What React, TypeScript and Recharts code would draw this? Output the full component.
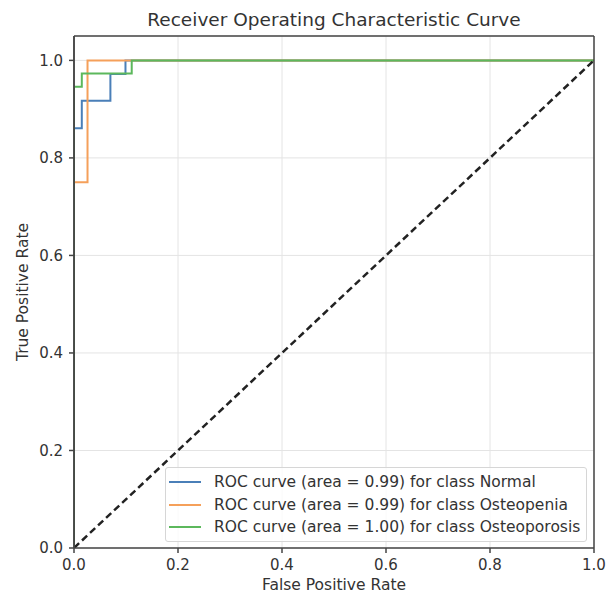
import { LineChart, Line, XAxis, YAxis, CartesianGrid, ReferenceLine } from 'recharts';

// ROC points (false positive rate, true positive rate)
const normalFpr = [0, 0, 0.015, 0.07, 0.099, 1];
const normalTpr = [0, 0.861, 0.917, 0.972, 1, 1];
const osteopeniaFpr = [0, 0, 0.026, 1];
const osteopeniaTpr = [0, 0.75, 1, 1];
const osteoporosisFpr = [0, 0, 0.015, 0.111, 1];
const osteoporosisTpr = [0, 0.946, 0.973, 1, 1];
const chanceFpr = [0, 1];
const chanceTpr = [0, 1];

const ticks = [0, 0.2, 0.4, 0.6, 0.8, 1.0];
const xMax = 1;
const yMax = 1.05;

const toPoints = (xs: number[], ys: number[]) => xs.map((x, i) => ({ x, y: ys[i] }));

const series = [
    { name: 'ROC curve (area = 0.99) for class Normal', color: '#4a7fb8', data: toPoints(normalFpr, normalTpr) },
    { name: 'ROC curve (area = 0.99) for class Osteopenia', color: '#f5a05a', data: toPoints(osteopeniaFpr, osteopeniaTpr) },
    { name: 'ROC curve (area = 1.00) for class Osteoporosis', color: '#5cb85c', data: toPoints(osteoporosisFpr, osteoporosisTpr) },
];

const font = '"DejaVu Sans", sans-serif';
const textColor = '#333';
const spine = '#444';

export default function App() {
    return (
        <div style={{ position: 'absolute', left: 0, top: 0, width: 611, height: 596, background: '#fff', fontFamily: font }}>
            <div style={{ position: 'absolute', left: 74, width: 520, top: 9, textAlign: 'center', fontSize: 18.5, color: textColor }}>
                Receiver Operating Characteristic Curve
            </div>
            <LineChart width={611} height={596} margin={{ top: 36, right: 17, left: 14, bottom: 8 }}>
                <CartesianGrid stroke="#e4e4e4" />
                {series.map((s) => (
                    <Line
                        key={s.name}
                        data={s.data}
                        dataKey="y"
                        type="stepAfter"
                        stroke={s.color}
                        strokeWidth={2}
                        dot={false}
                        isAnimationActive={false}
                    />
                ))}
                <Line
                    data={toPoints(chanceFpr, chanceTpr)}
                    dataKey="y"
                    type="linear"
                    stroke="#222"
                    strokeWidth={2.5}
                    strokeDasharray="7 4"
                    dot={false}
                    isAnimationActive={false}
                />
                <XAxis
                    type="number"
                    dataKey="x"
                    domain={[0, xMax]}
                    ticks={ticks}
                    tickFormatter={(v: number) => v.toFixed(1)}
                    height={40}
                    tickSize={5}
                    tickMargin={6}
                    stroke={spine}
                    strokeWidth={1.5}
                    tick={{ fill: textColor, fontSize: 15, fontFamily: font }}
                    label={{ value: 'False Positive Rate', position: 'insideBottom', offset: -2, fill: textColor, fontSize: 15.5, fontFamily: font }}
                    allowDataOverflow
                />
                <YAxis
                    type="number"
                    domain={[0, yMax]}
                    ticks={ticks}
                    tickFormatter={(v: number) => v.toFixed(1)}
                    width={60}
                    tickSize={5}
                    tickMargin={6}
                    stroke={spine}
                    strokeWidth={1.5}
                    tick={{ fill: textColor, fontSize: 15, fontFamily: font }}
                    label={{ value: 'True Positive Rate', angle: -90, position: 'insideLeft', offset: 0, dx: 8, fill: textColor, fontSize: 15.5, fontFamily: font, style: { textAnchor: 'middle' } }}
                    allowDataOverflow
                />
                {/* frame: top, right and left spines over the curves */}
                <ReferenceLine y={yMax} stroke={spine} strokeWidth={1.5} ifOverflow="visible" />
                <ReferenceLine x={xMax} stroke={spine} strokeWidth={1.5} ifOverflow="visible" />
                <ReferenceLine x={0} stroke={spine} strokeWidth={1.5} ifOverflow="visible" />
            </LineChart>
            <div
                style={{
                    position: 'absolute',
                    left: 165,
                    top: 467,
                    width: 422,
                    height: 75,
                    border: '1px solid #d6d6d6',
                    borderRadius: 3,
                    background: 'rgba(255,255,255,0.8)',
                    boxSizing: 'border-box',
                    padding: '3px 0 0 3px',
                }}
            >
                {series.map((s) => (
                    <div key={s.name} style={{ display: 'flex', alignItems: 'center', height: 22.5, fontSize: 15.5, color: textColor, whiteSpace: 'nowrap' }}>
                        <span style={{ display: 'inline-block', width: 32, height: 2, background: s.color, marginRight: 13 }} />
                        {s.name}
                    </div>
                ))}
            </div>
        </div>
    );
}
